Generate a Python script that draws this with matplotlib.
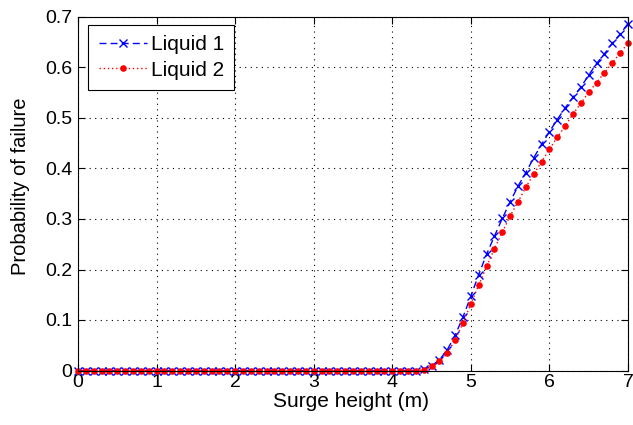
import matplotlib
matplotlib.use("Agg")
import matplotlib.pyplot as plt
import numpy as np

plt.rcParams['font.family'] = ['Liberation Sans', 'DejaVu Sans']

# Surge height samples (m), step 0.1 from 0 to 7
x_start, x_stop, n_pts = 0.0, 7.0, 71
surge = np.linspace(x_start, x_stop, n_pts)

# Probability values for x >= 4.3 (zero before)
liquid1_tail = [0.000, 0.002, 0.009, 0.021, 0.041, 0.070, 0.106, 0.147, 0.190, 0.230,
                0.266, 0.301, 0.334, 0.365, 0.392, 0.421, 0.448, 0.473, 0.497, 0.520,
                0.541, 0.561, 0.585, 0.608, 0.627, 0.648, 0.666, 0.687]
liquid2_tail = [0.000, 0.001, 0.008, 0.018, 0.034, 0.061, 0.094, 0.132, 0.169, 0.206,
                0.241, 0.274, 0.306, 0.334, 0.363, 0.389, 0.413, 0.438, 0.462, 0.484,
                0.508, 0.529, 0.551, 0.570, 0.590, 0.609, 0.629, 0.648]
n_zero = n_pts - len(liquid1_tail)
liquid1 = [0.0] * n_zero + liquid1_tail
liquid2 = [0.0] * n_zero + liquid2_tail

x_ticks = [0, 1, 2, 3, 4, 5, 6, 7]
y_ticks = [0, 0.1, 0.2, 0.3, 0.4, 0.5, 0.6, 0.7]
y_tick_labels = ['0', '0.1', '0.2', '0.3', '0.4', '0.5', '0.6', '0.7']

fig = plt.figure(figsize=(6.33, 4.25), dpi=100)
ax = fig.add_axes([78 / 633, 1 - 370.5 / 425, 550 / 633, 353.5 / 425])

ax.plot(surge, liquid1, color='#0000ff', linestyle=(0, (5, 3)), linewidth=1.0,
        marker='x', markersize=5.5, markeredgewidth=1.0, label='Liquid 1', clip_on=False)
ax.plot(surge, liquid2, color='#ff0000', linestyle=(0, (1, 2)), linewidth=1.0,
        marker='.', markersize=7.5, label='Liquid 2', clip_on=False)

ax.set_xlim(0, 7)
ax.set_ylim(0, 0.7)
ax.set_xticks(x_ticks)
ax.set_yticks(y_ticks)
ax.set_xticklabels([str(t) for t in x_ticks])
ax.set_yticklabels(y_tick_labels)
ax.grid(True, color='black', linestyle=(0, (1, 4)), linewidth=0.8)
ax.tick_params(direction='in', length=5, labelsize=14, top=True, right=True, width=0.8)
ax.tick_params(axis='x', pad=2.5)
ax.tick_params(axis='y', pad=4)
for s in ax.spines.values():
    s.set_linewidth(0.8)

ax.set_xlabel('Surge height (m)', fontsize=15)
ax.set_ylabel('Probability of failure', fontsize=14.5)
ax.xaxis.set_label_coords(0.497, -0.060)
ax.yaxis.set_label_coords(-0.087, 0.522)

leg = ax.legend(loc='upper left', bbox_to_anchor=(10.3 / 550, 1 - 8 / 353.5),
                borderaxespad=0, fontsize=15, fancybox=False, framealpha=1,
                edgecolor='black', handlelength=2.3, handletextpad=0.2,
                borderpad=0.5, labelspacing=0.3)
leg.get_frame().set_linewidth(0.8)

fig.savefig('out.png', dpi=100)
